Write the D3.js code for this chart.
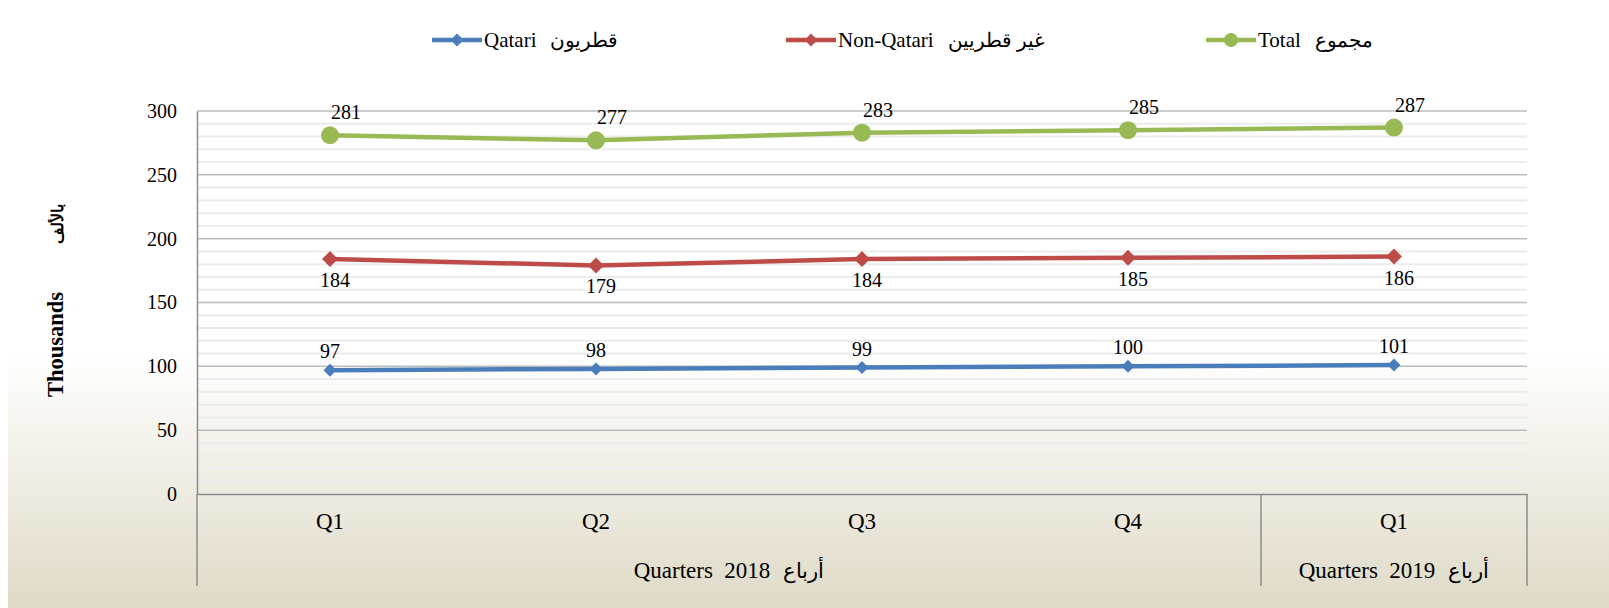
<!DOCTYPE html>
<html>
<head>
<meta charset="utf-8">
<script src="https://cdn.jsdelivr.net/npm/d3@7"></script>
<style>
    html, body { margin: 0; padding: 0; background: #fff; }
    svg { display: block; font-family: "Liberation Serif", "DejaVu Serif", serif; }
    svg text { white-space: pre; }
</style>
</head>
<body>
<svg id="chart"></svg>
<script>
// quarters on the x axis, grouped by year
const quarters = ["Q1", "Q2", "Q3", "Q4", "Q1"];
const quarterYear = ["2018", "2018", "2018", "2018", "2019"];
const yearLatin = { "2018": "Quarters  2018", "2019": "Quarters  2019" };
const yearArabic = "أرباع";

const qatari = [97, 98, 99, 100, 101];
const nonQatari = [184, 179, 184, 185, 186];
const total = [281, 277, 283, 285, 287];

const yTicks = [0, 50, 100, 150, 200, 250, 300];
const yTitle = ["Thousands", "بالألف"];

const series = [
    { latin: "Qatari", arabic: "قطريون", values: qatari, color: "#4a7ebb", marker: "diamond", size: 6.5, label: "above" },
    { latin: "Non-Qatari", arabic: "غير قطريين", values: nonQatari, color: "#be4b48", marker: "diamond", size: 8, label: "below" },
    { latin: "Total", arabic: "مجموع", values: total, color: "#98b954", marker: "circle", size: 9, label: "aboveRight" }
];

const width = 1609, height = 608;
const margin = { top: 111, right: 82, bottom: 114, left: 197 };

const svg = d3.select("#chart").attr("width", width).attr("height", height);

// background gradient
const defs = svg.append("defs");
const grad = defs.append("linearGradient")
    .attr("id", "bg").attr("x1", 0).attr("y1", 0).attr("x2", 0).attr("y2", 1);
grad.append("stop").attr("offset", "0").attr("stop-color", "#ffffff");
grad.append("stop").attr("offset", "0.58").attr("stop-color", "#ffffff");
grad.append("stop").attr("offset", "1").attr("stop-color", "#dfdac7");

svg.append("rect").attr("width", width).attr("height", height).attr("fill", "#ffffff");
svg.append("rect").attr("x", 8).attr("width", width - 8).attr("height", height).attr("fill", "url(#bg)");

const x = d3.scaleBand()
    .domain(d3.range(quarters.length))
    .range([margin.left, width - margin.right]);

const y = d3.scaleLinear()
    .domain([0, 300])
    .range([height - margin.bottom, margin.top]);

const cx = i => x(i) + x.bandwidth() / 2;

// latin + arabic pieces side by side, left to right
function mixedText(g, latin, arabic, gap, arabicSize) {
    const t1 = g.append("text").text(latin);
    const w1 = t1.node().getComputedTextLength();
    const t2 = g.append("text").attr("x", w1 + gap).text(arabic);
    if (arabicSize) t2.attr("font-size", arabicSize);
    const w2 = t2.node().getComputedTextLength();
    return w1 + gap + w2;
}

// minor gridlines every 10
svg.append("g")
    .selectAll("line")
    .data(d3.range(10, 300, 10).filter(v => v % 50 !== 0))
    .join("line")
    .attr("x1", margin.left).attr("x2", width - margin.right)
    .attr("y1", d => y(d)).attr("y2", d => y(d))
    .attr("stroke", "#ececec").attr("stroke-width", 2);

// major gridlines
svg.append("g")
    .selectAll("line")
    .data(yTicks.filter(v => v > 0))
    .join("line")
    .attr("x1", margin.left).attr("x2", width - margin.right)
    .attr("y1", d => y(d)).attr("y2", d => y(d))
    .attr("stroke", "#bcbcbc").attr("stroke-width", 1.5);

// y axis
const yAxis = svg.append("g")
    .attr("transform", `translate(${margin.left},0)`)
    .call(d3.axisLeft(y).tickValues(yTicks).tickSize(0).tickPadding(20));
yAxis.select(".domain").attr("stroke", "#8c8c8c").attr("stroke-width", 1.5);
yAxis.selectAll("text")
    .attr("font-family", "Liberation Serif, serif")
    .attr("font-size", 20).attr("fill", "#000");

// x axis with quarter labels
const xAxis = svg.append("g")
    .attr("transform", `translate(0,${height - margin.bottom})`)
    .call(d3.axisBottom(x).tickSize(0).tickPadding(19).tickFormat(i => quarters[i]));
xAxis.select(".domain").attr("stroke", "#8c8c8c").attr("stroke-width", 1.5);
xAxis.selectAll("text")
    .attr("font-family", "Liberation Serif, serif")
    .attr("font-size", 23).attr("fill", "#000");

// year groups
const years = Array.from(new Set(quarterYear)).map(yr => {
    const idx = quarterYear.map((q, i) => q === yr ? i : -1).filter(i => i >= 0);
    return { year: yr, first: d3.min(idx), last: d3.max(idx) };
});
const axisY = height - margin.bottom;
const dividers = [x(0)].concat(years.map(g => x(g.last) + x.bandwidth()));
svg.append("g")
    .selectAll("line")
    .data(dividers)
    .join("line")
    .attr("x1", d => d).attr("x2", d => d)
    .attr("y1", axisY).attr("y2", axisY + 92)
    .attr("stroke", "#8c8c8c").attr("stroke-width", 1.5);

years.forEach(gr => {
    const g = svg.append("g").attr("font-size", 23);
    const w = mixedText(g, yearLatin[gr.year], yearArabic, 13, 21);
    const mid = (x(gr.first) + x(gr.last) + x.bandwidth()) / 2;
    g.attr("transform", `translate(${mid - w / 2},${axisY + 84})`);
});

// y title, reads bottom to top
const yt = svg.append("g").attr("font-size", 22.5).attr("font-weight", "bold");
const ytw = mixedText(yt, yTitle[0], yTitle[1], 48, 16);
yt.attr("transform", `translate(63,${(margin.top + height - margin.bottom) / 2 - 2 + ytw / 2}) rotate(-90)`);

// lines
const line = d3.line().x((d, i) => cx(i)).y(d => y(d));
const diamond = s => `M0,${-s}L${s},0L0,${s}L${-s},0Z`;

series.forEach(s => {
    const g = svg.append("g");
    g.append("path")
        .datum(s.values)
        .attr("d", line)
        .attr("fill", "none")
        .attr("stroke", s.color)
        .attr("stroke-width", 4.5)
        .attr("stroke-linejoin", "round");

    if (s.marker === "circle") {
        g.selectAll("circle")
            .data(s.values)
            .join("circle")
            .attr("cx", (d, i) => cx(i)).attr("cy", d => y(d))
            .attr("r", s.size).attr("fill", s.color);
    } else {
        g.selectAll(".mk")
            .data(s.values)
            .join("path")
            .attr("class", "mk")
            .attr("transform", (d, i) => `translate(${cx(i)},${y(d)})`)
            .attr("d", diamond(s.size)).attr("fill", s.color);
    }

    // data labels
    g.selectAll(".lbl")
        .data(s.values)
        .join("text")
        .attr("class", "lbl")
        .attr("x", (d, i) => cx(i) + (s.label === "aboveRight" ? 16 : s.label === "below" ? 5 : 0))
        .attr("y", d => y(d) + (s.label === "below" ? 28 : s.label === "aboveRight" ? -16 : -12))
        .attr("text-anchor", "middle")
        .attr("font-size", 20)
        .text(d => d);
});

// legend
const legendX = [432, 786, 1206];
series.forEach((s, i) => {
    const lg = svg.append("g").attr("transform", `translate(${legendX[i]},40)`);
    lg.append("line").attr("x1", 0).attr("x2", 50).attr("y1", 0).attr("y2", 0)
        .attr("stroke", s.color).attr("stroke-width", 4.5);
    if (s.marker === "circle") {
        lg.append("circle").attr("cx", 25).attr("r", 7).attr("fill", s.color);
    } else {
        lg.append("path").attr("transform", "translate(25,0)").attr("d", diamond(6.5)).attr("fill", s.color);
    }
    const tg = lg.append("g").attr("transform", "translate(52,7)").attr("font-size", 21);
    mixedText(tg, s.latin, s.arabic, 14, 20);
});
</script>
</body>
</html>
